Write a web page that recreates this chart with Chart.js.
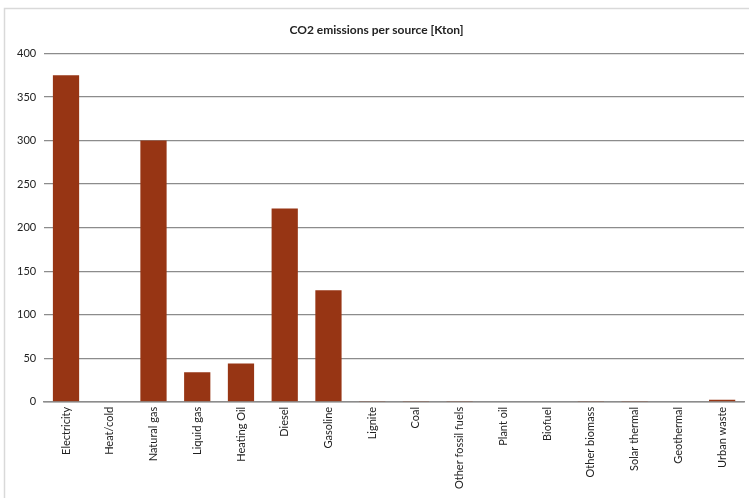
<!DOCTYPE html>
<html>
<head>
<meta charset="utf-8">
<script src="https://cdn.jsdelivr.net/npm/chart.js@4.4.1/dist/chart.umd.min.js"></script>
<style>
  html, body { margin: 0; padding: 0; background: #fff; }
  #wrap { width: 749px; height: 498px; position: relative; }
</style>
</head>
<body>
<div id="wrap"><canvas id="myChart" width="749" height="498"></canvas></div>
<script>
// Emission sources and their CO2 output in Kton
var sources = ['Electricity', 'Heat/cold', 'Natural gas', 'Liquid gas', 'Heating Oil', 'Diesel', 'Gasoline',
    'Lignite', 'Coal', 'Other fossil fuels', 'Plant oil', 'Biofuel', 'Other biomass', 'Solar thermal',
    'Geothermal', 'Urban waste'];
var emissions = [375, 0, 300, 34, 44, 222, 128, 1, 1, 1, 0, 0, 1, 1, 0, 2.3];
var yTicks = [0, 50, 100, 150, 200, 250, 300, 350, 400];

// thin grey frame on the left and top of the chart
var framePlugin = {
    id: 'frame',
    beforeDraw: function (chart) {
        var ctx = chart.ctx;
        ctx.save();
        ctx.strokeStyle = '#d9d9d9';
        ctx.lineWidth = 1.5;
        ctx.beginPath();
        ctx.moveTo(4.5, chart.height);
        ctx.lineTo(4.5, 8.5);
        ctx.lineTo(chart.width, 8.5);
        ctx.stroke();
        ctx.restore();
    }
};

window.onload = function () {
    var ctx = document.getElementById('myChart').getContext('2d');
    var myChart = new Chart(ctx, {
        type: 'bar',
        data: {
            labels: sources,
            datasets: [{
                label: 'CO2 emissions',
                data: emissions,
                backgroundColor: '#973514',
                borderWidth: 0,
                barPercentage: 0.6,
                categoryPercentage: 1
            }]
        },
        options: {
            responsive: false,
            animation: false,
            layout: { padding: { left: 9, right: 5, top: 8, bottom: 4 } },
            plugins: {
                legend: { display: false },
                tooltip: { enabled: false },
                title: {
                    display: true,
                    text: 'CO2 emissions per source [Kton]',
                    color: '#222',
                    font: { family: 'Lato', size: 12, weight: 'bold' },
                    padding: { top: 15, bottom: 16 }
                }
            },
            scales: {
                x: {
                    grid: { display: false, drawTicks: false },
                    border: { color: '#8c8c8c', width: 1.5 },
                    ticks: {
                        color: '#222',
                        font: { family: 'Lato', size: 11 },
                        minRotation: 90,
                        maxRotation: 90,
                        autoSkip: false,
                        padding: 5
                    }
                },
                y: {
                    min: 0,
                    max: 400,
                    afterBuildTicks: function (axis) {
                        axis.ticks = yTicks.map(function (v) { return { value: v }; });
                    },
                    grid: { color: '#8c8c8c', lineWidth: 1.2, drawTicks: false },
                    border: { display: false },
                    ticks: {
                        color: '#222',
                        font: { family: 'Lato', size: 11 },
                        padding: 8
                    }
                }
            }
        },
        plugins: [framePlugin]
    });
};
</script>
</body>
</html>
